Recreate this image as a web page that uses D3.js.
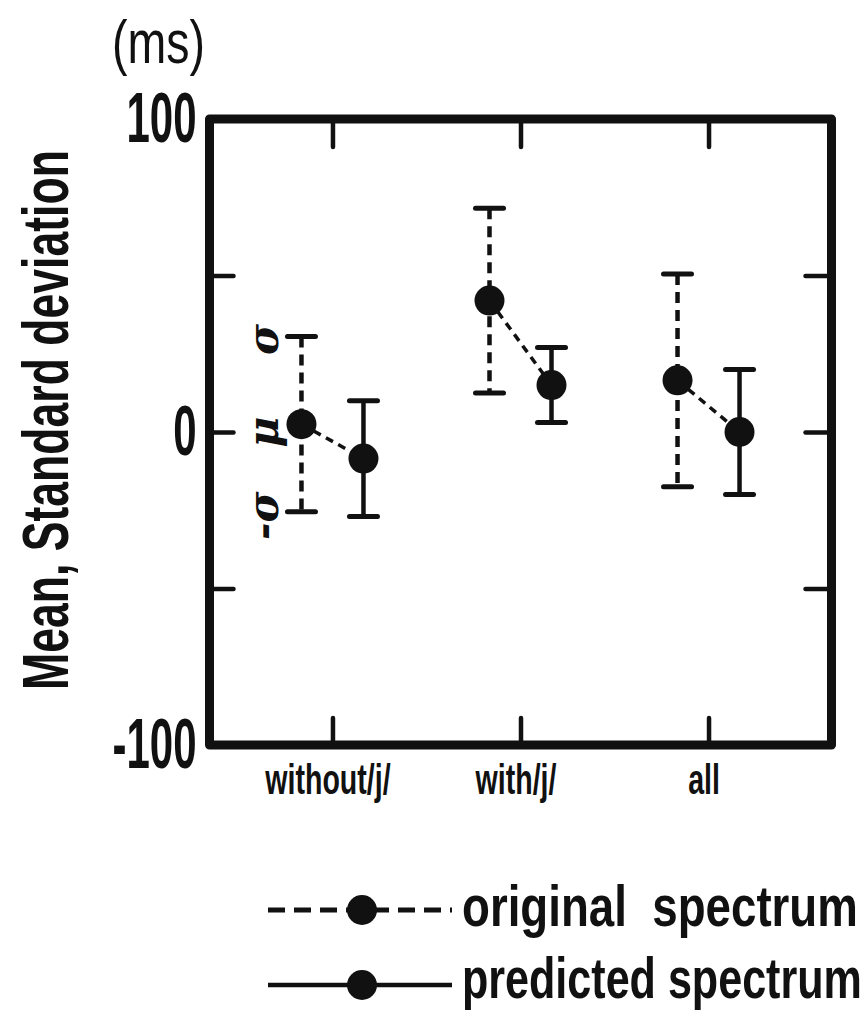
<!DOCTYPE html>
<html>
<head>
<meta charset="utf-8">
<script src="https://cdn.jsdelivr.net/npm/d3@7"></script>
<style>
  body { margin: 0; background: #fff; }
  svg { display: block; }
</style>
</head>
<body>
<svg id="chart" width="865" height="1017"></svg>
<script>
// ---- data ----
const categories = ["without/j/", "with/j/", "all"];
const seriesNames = ["original spectrum", "predicted spectrum"];
const originalMean = [2.5, 42, 16.5];
const originalSD = [28, 29.5, 34];
const predictedMean = [-8.5, 15, 0];
const predictedSD = [18.5, 12, 20];
const yTickValues = [-100, -50, 0, 50, 100];
const yTickLabels = ["-100", "", "0", "", "100"];
const yTitle = "Mean, Standard deviation";
const yUnit = "(ms)";
const greekLabels = ["σ", "μ", "-σ"];

// ---- setup ----
const ink = "#111";
const font = "'Liberation Sans', Arial, sans-serif";
const svg = d3.select("#chart");
svg.append("rect").attr("width", 865).attr("height", 1017).attr("fill", "#fff");

const plot = { left: 209.5, right: 831.5, top: 119, bottom: 745 };

const y = d3.scaleLinear().domain([-100, 100]).range([plot.bottom, plot.top]);
const x = d3.scalePoint().domain(categories).range([plot.left, plot.right]).padding(0.654);
const offset = d3.scalePoint().domain(seriesNames).range([-31, 31]);

const series = [
  { name: seriesNames[0], mean: originalMean, sd: originalSD, dash: "11,7" },
  { name: seriesNames[1], mean: predictedMean, sd: predictedSD, dash: null }
];

// squeeze text horizontally (condensed look) about its own anchor point
function squeeze(sel, factor) {
  sel.each(function () {
    const t = d3.select(this);
    const x0 = +t.attr("x") || 0;
    const prev = t.attr("transform") || "";
    t.attr("x", 0).attr("transform", `${prev} translate(${x0},0) scale(${factor},1)`);
  });
}
// squeeze so the text spans a given width
function fitWidth(sel, width) {
  sel.each(function () {
    const len = this.getComputedTextLength();
    squeeze(d3.select(this), width / len);
  });
}

function styleAxis(g) {
  g.select(".domain").remove();
  g.selectAll(".tick line").attr("stroke", ink).attr("stroke-width", 4.5).attr("stroke-linecap", "round");
}

// ---- axes (ticks point inward on all four sides) ----
const leftAxis = svg.append("g")
  .attr("transform", `translate(${plot.left},0)`)
  .call(d3.axisLeft(y).tickValues(yTickValues).tickSize(-24).tickPadding(13)
    .tickFormat((d, i) => yTickLabels[i]));
styleAxis(leftAxis);
leftAxis.selectAll(".tick").filter(d => Math.abs(d) === 100).select("line").remove();
leftAxis.selectAll(".tick text")
  .attr("fill", ink).attr("font-family", font).attr("font-size", 70).attr("font-weight", "bold");
squeeze(leftAxis.selectAll(".tick text"), 0.6);

const rightAxis = svg.append("g")
  .attr("transform", `translate(${plot.right},0)`)
  .call(d3.axisRight(y).tickValues([-50, 0, 50]).tickSize(-26).tickFormat(""));
styleAxis(rightAxis);

const topAxis = svg.append("g")
  .attr("transform", `translate(0,${plot.top})`)
  .call(d3.axisTop(x).tickSize(-28).tickFormat(""));
styleAxis(topAxis);

const bottomAxis = svg.append("g")
  .attr("transform", `translate(0,${plot.bottom})`)
  .call(d3.axisBottom(x).tickSize(-27).tickPadding(19));
styleAxis(bottomAxis);
bottomAxis.selectAll(".tick text")
  .attr("fill", ink).attr("font-family", font).attr("font-size", 42).attr("font-weight", "bold")
  .attr("x", -5);
squeeze(bottomAxis.selectAll(".tick text"), 0.68);

// ---- frame ----
svg.append("rect")
  .attr("x", plot.left).attr("y", plot.top)
  .attr("width", plot.right - plot.left).attr("height", plot.bottom - plot.top)
  .attr("fill", "none").attr("stroke", ink).attr("stroke-width", 9)
  .attr("stroke-linejoin", "round");

// ---- error bars ----
const capHalf = 14;
series.forEach(s => {
  const g = svg.append("g").attr("class", "errorbars");
  categories.forEach((c, i) => {
    const cx = x(c) + offset(s.name);
    const hi = y(s.mean[i] + s.sd[i]);
    const lo = y(s.mean[i] - s.sd[i]);
    g.append("line")
      .attr("x1", cx).attr("x2", cx).attr("y1", hi).attr("y2", lo)
      .attr("stroke", ink).attr("stroke-width", 4.5)
      .attr("stroke-dasharray", s.dash);
    [hi, lo].forEach(yy => {
      g.append("line")
        .attr("x1", cx - capHalf).attr("x2", cx + capHalf).attr("y1", yy).attr("y2", yy)
        .attr("stroke", ink).attr("stroke-width", 5).attr("stroke-linecap", "round");
    });
  });
});

// ---- connectors from original to predicted mean ----
categories.forEach((c, i) => {
  svg.append("line")
    .attr("x1", x(c) + offset(seriesNames[0])).attr("y1", y(originalMean[i]))
    .attr("x2", x(c) + offset(seriesNames[1])).attr("y2", y(predictedMean[i]))
    .attr("stroke", ink).attr("stroke-width", 3.5).attr("stroke-dasharray", "8,6");
});

// ---- mean dots ----
series.forEach(s => {
  svg.append("g").selectAll("circle")
    .data(categories)
    .join("circle")
    .attr("cx", c => x(c) + offset(s.name))
    .attr("cy", (c, i) => y(s.mean[i]))
    .attr("r", 15)
    .attr("fill", ink);
});

// ---- σ / μ / -σ annotations beside the first bar ----
{
  const gx = x(categories[0]) + offset(seriesNames[0]) - 38;
  const m = originalMean[0], sd = originalSD[0];
  const ys = [y(m + sd) + 3, y(m) + 8, y(m - sd) + 4];
  greekLabels.forEach((t, k) => {
    svg.append("text")
      .attr("transform", `translate(${gx},${ys[k]}) rotate(-90)`)
      .attr("text-anchor", "middle").attr("dominant-baseline", "central")
      .attr("font-family", "'DejaVu Serif', 'Liberation Serif', serif")
      .attr("font-style", "italic").attr("font-weight", "bold").attr("font-size", 42)
      .attr("fill", ink)
      .text(t);
  });
}

// ---- axis title and unit ----
const title = svg.append("text")
  .attr("transform", "translate(68,420) rotate(-90)")
  .attr("text-anchor", "middle")
  .attr("font-family", font).attr("font-size", 64).attr("font-weight", "bold")
  .attr("fill", ink)
  .text(yTitle);
fitWidth(title, 540);

const unit = svg.append("text")
  .attr("transform", "translate(112,63)")
  .attr("font-family", font).attr("font-size", 62)
  .attr("fill", ink)
  .text(yUnit);
fitWidth(unit, 93);

// ---- legend ----
const legendRows = [
  { name: seriesNames[0], dash: "17,9", width: 5, y: 910, base: 926, len: 396, text: "original  spectrum" },
  { name: seriesNames[1], dash: null, width: 4.5, y: 985, base: 998, len: 400, text: "predicted spectrum" }
];
legendRows.forEach(r => {
  svg.append("line")
    .attr("x1", 268).attr("x2", 452).attr("y1", r.y).attr("y2", r.y)
    .attr("stroke", ink).attr("stroke-width", r.width).attr("stroke-dasharray", r.dash);
  svg.append("circle").attr("cx", 362).attr("cy", r.y).attr("r", 15).attr("fill", ink);
  const t = svg.append("text")
    .attr("transform", `translate(462,${r.base})`)
    .attr("font-family", font).attr("font-size", 58).attr("font-weight", "bold")
    .attr("fill", ink)
    .style("white-space", "pre")
    .text(r.text);
  fitWidth(t, r.len);
});
</script>
</body>
</html>
